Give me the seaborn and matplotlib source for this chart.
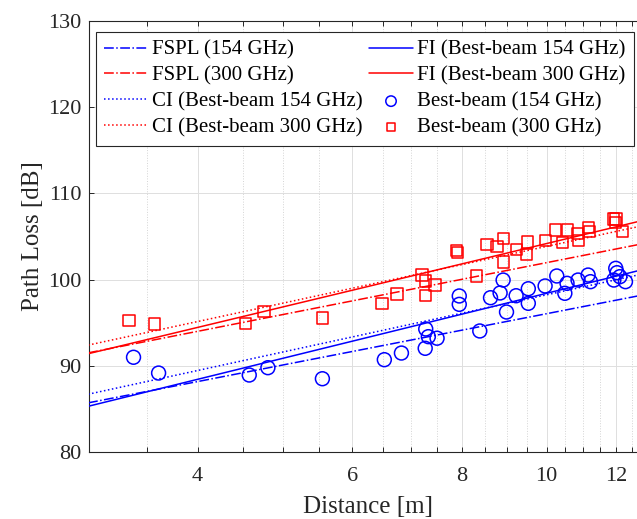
import matplotlib
matplotlib.use("Agg")
import matplotlib.pyplot as plt
import seaborn as sns
from matplotlib.ticker import FixedLocator, FixedFormatter, NullFormatter

# ---- measured data (Best-beam path loss) ----
dist_154 = [3.38, 3.61, 4.58, 4.81, 5.55, 6.53, 6.83, 7.28, 7.33, 7.27, 7.50,
            7.95, 7.95, 8.39, 8.63, 8.85, 8.92, 9.00, 9.23, 9.53, 9.53, 9.96,
            10.27, 10.49, 10.55, 10.86, 11.15, 11.22, 11.99, 12.03, 11.93, 12.12, 12.30]
pl_154 = [90.99, 89.16, 88.93, 89.78, 88.50, 90.71, 91.48, 94.27, 93.38, 92.03, 93.20,
          98.10, 97.13, 94.04, 97.90, 98.45, 99.95, 96.24, 98.13, 98.94, 97.25, 99.26,
          100.42, 98.41, 99.57, 99.95, 100.53, 99.76, 101.31, 100.80, 99.95, 100.34, 99.76]

dist_300 = [3.34, 3.57, 4.54, 4.76, 5.55, 6.49, 6.75, 7.21, 7.28, 7.28, 7.46,
            7.89, 7.92, 8.32, 8.55, 8.78, 8.92, 8.92, 9.23, 9.52, 9.48, 9.96,
            10.24, 10.43, 10.57, 10.84, 10.88, 11.17, 11.20, 11.93, 12.00, 11.98, 12.21]
pl_300 = [95.28, 94.85, 94.88, 96.28, 95.55, 97.20, 98.33, 100.53, 99.84, 98.13, 99.37,
          103.35, 103.17, 100.42, 104.10, 103.82, 104.75, 102.04, 103.47, 104.36, 102.89, 104.51,
          105.75, 104.28, 105.75, 105.37, 104.51, 106.02, 105.56, 107.03, 107.03, 106.65, 105.56]

# ---- model lines (values at the two ends of the distance range) ----
line_dist = [3.0, 13.0]
fspl_154 = [85.70, 98.30]
fspl_300 = [91.50, 104.25]
ci_154 = [86.70, 100.75]
ci_300 = [92.40, 106.35]
fi_154 = [85.30, 101.27]
fi_300 = [91.40, 106.97]

x_ticks = [4, 6, 8, 10, 12]
x_tick_labels = ["4", "6", "8", "10", "12"]
x_minor = [3.5, 4.5, 5, 5.5, 6.5, 7, 7.5, 8.5, 9, 9.5, 10.5, 11, 11.5, 12.5]
y_ticks = [80, 90, 100, 110, 120, 130]

sns.set_theme(style="white")
plt.rcParams['font.family'] = ['Liberation Serif', 'DejaVu Serif']

dark = '#262626'
fig = plt.figure(figsize=(6.37, 5.19), dpi=100)
ax = fig.add_axes([0.1405, 0.1291, 0.8745, 0.8304])
ax.set_xscale('log')

line_specs = [
    (fspl_154, 'FSPL (154 GHz)', 'blue', '-.'),
    (fspl_300, 'FSPL (300 GHz)', 'red', '-.'),
    (ci_154, 'CI (Best-beam 154 GHz)', 'blue', ':'),
    (ci_300, 'CI (Best-beam 300 GHz)', 'red', ':'),
    (fi_154, 'FI (Best-beam 154 GHz)', 'blue', '-'),
    (fi_300, 'FI (Best-beam 300 GHz)', 'red', '-'),
]
for ys, lab, col, ls in line_specs:
    sns.lineplot(x=line_dist, y=ys, ax=ax, color=col, linestyle=ls,
                 linewidth=1.1, label=lab, zorder=3)

sns.scatterplot(x=dist_154, y=pl_154, ax=ax, marker='o', s=100,
                facecolors='none', edgecolor='blue', linewidth=1.1,
                label='Best-beam (154 GHz)', zorder=2)
sns.scatterplot(x=dist_300, y=pl_300, ax=ax, marker='s', s=65,
                facecolors='none', edgecolor='red', linewidth=1.1,
                label='Best-beam (300 GHz)', zorder=2)

ax.set_xlim(3.011, 13.0)
ax.set_ylim(80, 130)
ax.xaxis.set_major_locator(FixedLocator(x_ticks))
ax.xaxis.set_major_formatter(FixedFormatter(x_tick_labels))
ax.xaxis.set_minor_locator(FixedLocator(x_minor))
ax.xaxis.set_minor_formatter(NullFormatter())
ax.set_yticks(y_ticks)

ax.grid(which='major', color='#dedede', linewidth=0.7, linestyle='-')
ax.grid(which='minor', axis='x', color='#d4d4d4', linewidth=0.7, linestyle=':')
ax.set_axisbelow(True)

for side in ['left', 'bottom', 'top']:
    ax.spines[side].set_color(dark)
    ax.spines[side].set_linewidth(0.8)
ax.spines['right'].set_visible(False)

ax.tick_params(which='both', direction='in', top=True, right=False,
               bottom=True, left=True, length=3.8, width=0.7, color=dark,
               labelcolor=dark, labelsize=16)
ax.tick_params(axis='x', which='major', pad=11)
ax.tick_params(axis='y', which='major', pad=6)

ax.set_xlabel('Distance [m]', fontsize=18, color=dark, labelpad=7)
ax.set_ylabel('Path Loss [dB]', fontsize=18, color=dark, labelpad=3)

handles, labels = ax.get_legend_handles_labels()
leg = ax.legend(handles, labels, ncol=2, loc='upper left',
                bbox_to_anchor=(0.0117, 0.9745), borderaxespad=0,
                fontsize=15, frameon=True, fancybox=False, framealpha=1,
                edgecolor=dark, handlelength=2.1, handletextpad=0.2,
                columnspacing=0.3, labelspacing=0.3, borderpad=0.4,
                markerscale=0.75)
leg.get_frame().set_linewidth(0.8)
for t in leg.get_texts():
    t.set_color('black')

fig.savefig('out.png', dpi=100)
